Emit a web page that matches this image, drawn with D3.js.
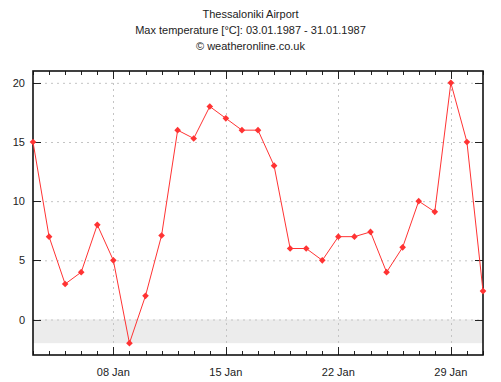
<!DOCTYPE html>
<html><head><meta charset="utf-8">
<script src="https://cdn.jsdelivr.net/npm/d3@7"></script>
<style>body{margin:0;background:#fff}svg{display:block}text{font-family:"Liberation Sans",Arial,sans-serif}</style>
</head><body><svg id="c" width="501" height="382"></svg>
<script>
const titleLines = ["Thessaloniki Airport", "Max temperature [°C]: 03.01.1987 - 31.01.1987", "© weatheronline.co.uk"];
const days = [3,4,5,6,7,8,9,10,11,12,13,14,15,16,17,18,19,20,21,22,23,24,25,26,27,28,29,30,31];
const values = [15,7,3,4,8,5,-2,2,7.1,16,15.3,18,17,16,16,13,6,6,5,7,7,7.4,4,6.1,10,9.1,20,15,2.4];
const yTicks = [0,5,10,15,20];
const xMajor = [8,15,22,29];
const xLabels = ["08 Jan","15 Jan","22 Jan","29 Jan"];

const svg = d3.select("#c");
const L=33,R=483,T=71,B=355;
const x = d3.scaleLinear().domain([3,31]).range([L,R]);
const y = d3.scaleLinear().domain([-3,21]).range([B,T]);

svg.selectAll("text.t").data(titleLines).enter().append("text")
 .attr("x",250.5).attr("y",(d,i)=>18+i*16).attr("text-anchor","middle")
 .attr("font-size",11).attr("fill","#222").text(d=>d);

// gray band below 0
svg.append("rect").attr("x",L).attr("width",R-L).attr("y",y(0)).attr("height",y(d3.min(values))-y(0)).attr("fill","#ececec");

// grid
svg.selectAll("line.hg").data(yTicks).enter().append("line")
 .attr("x1",L).attr("x2",R).attr("y1",d=>y(d)+0.5).attr("y2",d=>y(d)+0.5)
 .attr("stroke","#c4c4c4").attr("stroke-dasharray","2,4");
svg.selectAll("line.vg").data(xMajor).enter().append("line")
 .attr("y1",T).attr("y2",B).attr("x1",d=>Math.round(x(d))+0.5).attr("x2",d=>Math.round(x(d))+0.5)
 .attr("stroke","#c4c4c4").attr("stroke-dasharray","2,4");

// ticks
const tickG = svg.append("g").attr("stroke","#222").attr("stroke-width",1);
days.forEach(d=>{
  const len = xMajor.includes(d)?8:4;
  const xx = Math.round(x(d))+0.5;
  tickG.append("line").attr("x1",xx).attr("x2",xx).attr("y1",B).attr("y2",B-len);
  tickG.append("line").attr("x1",xx).attr("x2",xx).attr("y1",T).attr("y2",T+len);
});
yTicks.forEach(v=>{
  const yy = Math.round(y(v))+0.5;
  tickG.append("line").attr("x1",L).attr("x2",L+8).attr("y1",yy).attr("y2",yy);
  tickG.append("line").attr("x1",R).attr("x2",R-8).attr("y1",yy).attr("y2",yy);
});

// frame
svg.append("rect").attr("x",L).attr("y",T).attr("width",R-L).attr("height",B-T)
 .attr("fill","none").attr("stroke","#111").attr("stroke-width",1.6);

// labels
svg.selectAll("text.yl").data(yTicks).enter().append("text")
 .attr("x",25).attr("y",d=>y(d)+4).attr("text-anchor","end").attr("font-size",11).attr("fill","#222").text(d=>d);
svg.selectAll("text.xl").data(xMajor).enter().append("text")
 .attr("x",d=>x(d)).attr("y",376).attr("text-anchor","middle").attr("font-size",11).attr("fill","#222")
 .text((d,i)=>xLabels[i]);

// line
const pts = days.map((d,i)=>[d,values[i]]);
svg.append("path").datum(pts).attr("fill","none").attr("stroke","#ff3333").attr("stroke-width",1)
 .attr("d",d3.line().x(d=>x(d[0])).y(d=>y(d[1])));
svg.selectAll("path.m").data(pts).enter().append("path")
 .attr("d",d3.symbol().type(d3.symbolDiamond2).size(28))
 .attr("transform",d=>`translate(${x(d[0])},${y(d[1])})`).attr("fill","#ff3333");
</script></body></html>
